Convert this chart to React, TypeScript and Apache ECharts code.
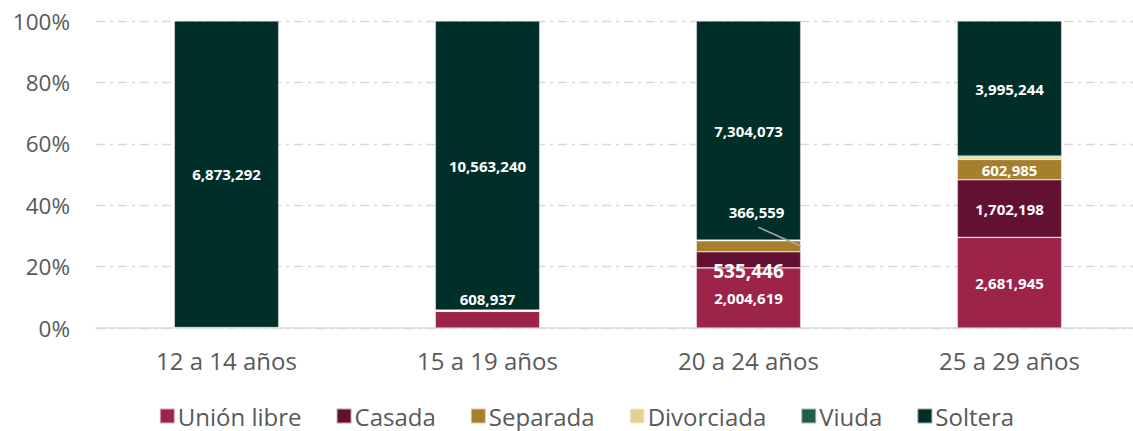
import React, { useEffect, useRef } from "react";
import * as echarts from "echarts";

const categories = ["12 a 14 años", "15 a 19 años", "20 a 24 años", "25 a 29 años"];
const seriesNames = ["Unión libre", "Casada", "Separada", "Divorciada", "Viuda", "Soltera"];
const colors = ["#9D2449", "#621132", "#A57F2C", "#E6D194", "#235B4E", "#002F2A"];

const unionLibre = [6000, 608937, 2004619, 2681945];
const casada = [2000, 12000, 535446, 1702198];
const separada = [2000, 30000, 366559, 602985];
const divorciada = [500, 3000, 15000, 70000];
const viuda = [300, 2000, 8000, 30000];
const soltera = [6873292, 10563240, 7304073, 3995244];

// which labels are shown, per series and category
const labelShown = [
  [false, true, true, true],
  [false, false, true, true],
  [false, false, true, true],
  [false, false, false, false],
  [false, false, false, false],
  [true, true, true, true],
];

const values = [unionLibre, casada, separada, divorciada, viuda, soltera];

export default function App() {
  const ref = useRef<HTMLDivElement>(null);
  useEffect(() => {
    if (!ref.current) return;
    document.body.style.margin = "0";
    document.body.style.overflow = "hidden";
    document.documentElement.style.overflow = "hidden";
    const chart = echarts.init(ref.current, null, { renderer: "svg" });
    const totals = categories.map((_, i) => values.reduce((s, arr) => s + arr[i], 0));
    const pct = values.map((arr) => arr.map((v, ci) => (v / totals[ci]) * 100));
    const fmt = (v: number) => v.toLocaleString("en-US");
    const LABEL_DX = 8;
    const LABEL_DY = -34;
    const series = seriesNames.map((name, si) => ({
      name,
      type: "bar",
      stack: "total",
      barWidth: "40%",
      itemStyle: { color: colors[si], borderColor: "rgba(255,255,255,0.6)", borderWidth: 0.6 },
      data: values[si].map((v, ci) => {
        const item: any = {
          value: pct[si][ci],
          label: {
            show: labelShown[si][ci],
            position: "inside",
            color: "#ffffff",
            fontWeight: "bold",
            fontSize: 15,
            fontFamily: "Open Sans",
            formatter: fmt(v),
          },
        };
        if (si === 0 && ci === 1) {
          item.label.position = "top";
          item.label.distance = 5;
        }
        if (si === 1 && ci === 2) {
          item.label.fontSize = 19;
        }
        return item;
      }),
      labelLayout: (p: any) => {
        if (si === 2 && p.dataIndex === 2) {
          return { dx: LABEL_DX, dy: LABEL_DY };
        }
        if (si === 1 && p.dataIndex === 2) {
          return { dy: 11 };
        }
        return {};
      },
    }));

    const option: any = {
      animation: false,
      textStyle: { fontFamily: "Open Sans" },
      grid: { left: 96, right: 33, top: 21, bottom: 103 },
      legend: {
        bottom: -2,
        left: "center",
        itemWidth: 15,
        itemHeight: 15,
        itemGap: 34,
        icon: "rect",
        textStyle: { fontSize: 24, color: "#595959", fontFamily: "Open Sans", padding: [0, 0, 0, -2] },
        data: seriesNames,
      },
      xAxis: {
        type: "category",
        data: categories,
        axisTick: { show: false },
        axisLine: { lineStyle: { color: "#D9D9D9", width: 1.5 } },
        axisLabel: { fontSize: 24, color: "#595959", margin: 20, fontFamily: "Open Sans" },
      },
      yAxis: {
        type: "value",
        min: 0,
        max: 100,
        interval: 20,
        axisLabel: {
          formatter: "{value}%",
          fontSize: 22.5,
          color: "#595959",
          margin: 26,
          fontFamily: "Open Sans",
        },
        splitLine: { lineStyle: { color: "#D9D9D9", type: [9, 5, 3, 5], width: 1.3 } },
      },
      series,
    };
    chart.setOption(option);

    // leader line for the Separada label of "20 a 24 años", from the axes' scales
    const ci = 2;
    const base = pct[0][ci] + pct[1][ci];
    const mid = base + pct[2][ci] / 2;
    const [xc, yMid] = chart.convertToPixel({ xAxisIndex: 0, yAxisIndex: 0 }, [ci, mid]) as number[];
    const [x1] = chart.convertToPixel({ xAxisIndex: 0, yAxisIndex: 0 }, [ci + 1, mid]) as number[];
    const band = x1 - xc;
    const rightEdge = xc + band * 0.2;
    chart.setOption({
      graphic: [
        {
          type: "line",
          shape: { x1: xc + LABEL_DX + 2, y1: yMid + LABEL_DY + 15, x2: rightEdge, y2: yMid },
          style: { stroke: "#A6A6A6", lineWidth: 1.5 },
          z: 100,
        },
      ],
    });
    return () => chart.dispose();
  }, []);
  return <div ref={ref} style={{ width: 1173, height: 431 }} />;
}
